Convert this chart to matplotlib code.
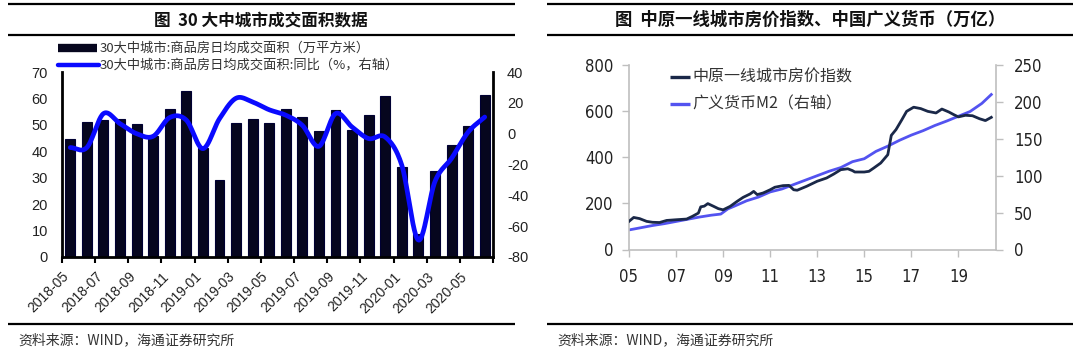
import numpy as np
import matplotlib
matplotlib.use("Agg")
import matplotlib.pyplot as plt
from matplotlib.lines import Line2D
from matplotlib import font_manager as fm

plt.rcParams["axes.unicode_minus"] = False

# ---------------- data ----------------
# 30 large/medium cities: monthly average daily transaction area
months = ["2018-05", "2018-06", "2018-07", "2018-08", "2018-09", "2018-10",
          "2018-11", "2018-12", "2019-01", "2019-02", "2019-03", "2019-04",
          "2019-05", "2019-06", "2019-07", "2019-08", "2019-09", "2019-10",
          "2019-11", "2019-12", "2020-01", "2020-02", "2020-03", "2020-04",
          "2020-05", "2020-06"]
area = [44.5, 51.2, 52.0, 52.3, 50.2, 45.6, 56.0, 63.0, 41.4, 29.0, 50.8, 52.2,
        50.8, 56.1, 53.0, 47.7, 55.5, 47.9, 53.6, 60.8, 34.0, 8.8, 32.4, 42.2,
        49.7, 61.3]
area_yoy = [-9.0, -9.0, 13.0, 6.5, 0.0, -1.7, 10.5, 8.8, -9.7, 9.7, 23.0, 20.5,
            15.5, 12.0, 5.4, -8.2, 13.0, 4.3, -3.2, -2.2, -20.5, -69.0, -31.0, -16.0,
            1.0, 10.8]
tick_labels_left = ["2018-05", "2018-07", "2018-09", "2018-11", "2019-01", "2019-03",
                    "2019-05", "2019-07", "2019-09", "2019-11", "2020-01", "2020-03",
                    "2020-05"]

# Centaline first-tier city price index (left axis)
price_t = [2005.0, 2005.2, 2005.45, 2005.75, 2006.0, 2006.3, 2006.6, 2007.0, 2007.45,
           2007.7, 2007.95, 2008.05, 2008.2, 2008.35, 2008.6, 2008.8, 2009.0, 2009.3,
           2009.6, 2009.85, 2010.15, 2010.3, 2010.45, 2010.7, 2011.0, 2011.2, 2011.55,
           2011.8, 2012.0, 2012.15, 2012.55, 2013.0, 2013.4, 2013.7, 2014.0, 2014.3,
           2014.5, 2014.6, 2015.0, 2015.2, 2015.4, 2015.7, 2016.0, 2016.15, 2016.35,
           2016.6, 2016.8, 2017.1, 2017.4, 2017.7, 2018.05, 2018.3, 2018.6, 2018.8,
           2019.0, 2019.3, 2019.6, 2019.9, 2020.15, 2020.4]
price_val = [122, 139, 134, 122, 118, 117, 126, 129, 132, 144, 158, 185, 188, 199, 187,
             177, 172, 187, 209, 226, 241, 252, 238, 245, 259, 270, 277, 278, 259, 257,
             274, 296, 310, 327, 346, 350, 342, 336, 336, 339, 353, 375, 411, 495, 520,
             563, 599, 617, 611, 599, 592, 609, 596, 585, 575, 582, 580, 567, 559, 573]

# Broad money M2, trillion yuan (right axis)
m2_t = [2005.0, 2005.5, 2006.0, 2006.5, 2007.0, 2007.5, 2008.0, 2008.5, 2008.9, 2009.2,
        2009.5, 2010.0, 2010.5, 2011.0, 2011.5, 2012.0, 2012.5, 2013.0, 2013.5, 2014.0,
        2014.5, 2015.0, 2015.5, 2016.0, 2016.5, 2017.0, 2017.5, 2018.0, 2018.5, 2019.0,
        2019.5, 2020.0, 2020.4]
m2_val = [26.5, 29.5, 32.5, 35.0, 38.0, 41.0, 44.0, 46.5, 48.0, 55.0, 59.0, 66.0, 71.0,
          78.0, 82.0, 88.0, 94.0, 100.0, 106.0, 111.0, 119.0, 123.0, 133.0, 140.0, 148.0,
          155.0, 161.0, 168.0, 174.0, 180.5, 187.0, 198.0, 210.0]
year_ticks = [2005, 2007, 2009, 2011, 2013, 2015, 2017, 2019]
year_labels = ["05", "07", "09", "11", "13", "15", "17", "19"]

# ---------------- helpers ----------------
W, H = 1080, 349
CJK = ["Noto Sans CJK SC", "DejaVu Sans"]
ARIAL = ["Liberation Sans", "DejaVu Sans"]

# a narrow face for the right-hand chart's numbers, if one is installed
_fonts = fm.fontManager.ttflist
_names = {f.name for f in _fonts}
if "Liberation Sans Narrow" in _names:
    NARROW_FP = fm.FontProperties(family="Liberation Sans Narrow", size=13)
elif any(f.name == "DejaVu Sans" and f.stretch == "condensed" for f in _fonts):
    NARROW_FP = fm.FontProperties(family="DejaVu Sans", stretch="condensed", size=12)
else:
    NARROW_FP = fm.FontProperties(family="Liberation Sans", size=12.5)


def fx(x):
    return x / W


def fy(y):
    return 1 - y / H


def axes_px(fig, x0, y0, x1, y1):
    return fig.add_axes([fx(x0), fy(y1), (x1 - x0) / W, (y1 - y0) / H])


def smooth(x, y, n=24):
    """Catmull-Rom curve through the given points."""
    pts = np.column_stack([x, y]).astype(float)
    P = np.vstack([2 * pts[0] - pts[1], pts, 2 * pts[-1] - pts[-2]])
    t = np.linspace(0, 1, n, endpoint=False)[:, None]
    segs = []
    for i in range(1, len(P) - 2):
        p0, p1, p2, p3 = P[i - 1], P[i], P[i + 1], P[i + 2]
        segs.append(0.5 * (2 * p1 + (-p0 + p2) * t
                           + (2 * p0 - 5 * p1 + 4 * p2 - p3) * t ** 2
                           + (-p0 + 3 * p1 - 3 * p2 + p3) * t ** 3))
    segs.append(pts[-1:])
    s = np.vstack(segs)
    return s[:, 0], s[:, 1]


def hline(fig, x0, x1, y, lw=1.6, color="black"):
    fig.add_artist(Line2D([fx(x0), fx(x1)], [fy(y), fy(y)], transform=fig.transFigure,
                          color=color, lw=lw, solid_capstyle="butt"))


fig = plt.figure(figsize=(W / 100, H / 100), dpi=100)
fig.patch.set_facecolor("white")

# ---------------- panel frames ----------------
for (a, b) in [(8, 515), (547, 1073)]:
    hline(fig, a, b, 4, lw=1.6)
    hline(fig, a, b, 35, lw=1.6)
    hline(fig, a, b, 324, lw=1.6)

fig.text(fx(261), fy(20), "图  30 大中城市成交面积数据", ha="center", va="center",
         fontsize=12, fontweight="bold", family=CJK, color="#111111")
fig.text(fx(810), fy(20), "图  中原一线城市房价指数、中国广义货币（万亿）", ha="center",
         va="center", fontsize=12.5, fontweight="bold", family=CJK, color="#111111")
fig.text(fx(18), fy(340), "资料来源：WIND，海通证券研究所", ha="left", va="center",
         fontsize=10, family=CJK, color="#333333")
fig.text(fx(557), fy(340), "资料来源：WIND，海通证券研究所", ha="left", va="center",
         fontsize=10, family=CJK, color="#333333")

# ---------------- left chart ----------------
ax = axes_px(fig, 62, 72, 493, 257)
x = np.arange(len(months))
ax.bar(x, area, width=0.6, color="#06061e", edgecolor="#000033", linewidth=0.8, zorder=2)
ax.set_xlim(-0.5, len(months) - 0.5)
ax.set_ylim(0, 70)
ax.set_yticks(range(0, 71, 10))
ax.set_xticks(np.arange(-0.5, len(months), 2))
ax.set_xticklabels(tick_labels_left + [""], rotation=45, ha="right", va="top",
                   rotation_mode="anchor", fontsize=10, family=ARIAL, color="#222222")
ax.tick_params(axis="x", length=4, width=1.5, direction="out", pad=5)
ax.tick_params(axis="y", length=0, pad=10, labelsize=10.5, labelcolor="#222222")
for lbl in ax.get_yticklabels():
    lbl.set_family(ARIAL)
for s in ["top", "right"]:
    ax.spines[s].set_visible(False)
for s in ["left", "bottom"]:
    ax.spines[s].set_linewidth(2)
    ax.spines[s].set_color("black")

ax2 = ax.twinx()
sx, sy = smooth(x, area_yoy)
ax2.plot(sx, sy, color="#0a0aff", lw=3.4, solid_capstyle="round", zorder=3)
ax2.set_ylim(-80, 40)
ax2.set_yticks(range(-80, 41, 20))
ax2.tick_params(axis="y", length=0, pad=10, labelsize=10.5, labelcolor="#222222")
for lbl in ax2.get_yticklabels():
    lbl.set_family(ARIAL)
for s in ["top", "left", "bottom"]:
    ax2.spines[s].set_visible(False)
ax2.spines["right"].set_linewidth(2)
ax2.spines["right"].set_color("black")

# legend for the left chart
fig.add_artist(Line2D([fx(58), fx(97)], [fy(48), fy(48)], transform=fig.transFigure,
                      color="#06061e", lw=6, solid_capstyle="butt"))
fig.add_artist(Line2D([fx(58), fx(99)], [fy(65), fy(65)], transform=fig.transFigure,
                      color="#0a0aff", lw=3.2, solid_capstyle="round"))
fig.text(fx(100), fy(48), "30大中城市:商品房日均成交面积（万平方米）", ha="left",
         va="center", fontsize=9.5, family=CJK, color="#333333")
fig.text(fx(100), fy(65), "30大中城市:商品房日均成交面积:同比（%，右轴）", ha="left",
         va="center", fontsize=9.5, family=CJK, color="#333333")

# ---------------- right chart ----------------
bx = axes_px(fig, 629, 65, 996, 249.5)
bx.plot(price_t, price_val, color="#1a2848", lw=2.0, zorder=3)
bx.set_xlim(2005, 2020.6)
bx.set_ylim(0, 800)
bx.set_yticks(range(0, 801, 200))
bx.set_xticks(year_ticks)
bx.set_xticklabels(year_labels)
bx.tick_params(axis="both", colors="#bfbfbf", labelcolor="#222222", width=1, length=5)
bx.tick_params(axis="x", pad=8)
bx.tick_params(axis="y", pad=6)
for lbl in bx.get_xticklabels() + bx.get_yticklabels():
    lbl.set_fontproperties(NARROW_FP)
for s in ["top", "right"]:
    bx.spines[s].set_visible(False)
for s in ["left", "bottom"]:
    bx.spines[s].set_color("#bfbfbf")
    bx.spines[s].set_linewidth(1.2)

bx2 = bx.twinx()
bx2.plot(m2_t, m2_val, color="#5353f0", lw=2.0, zorder=2)
bx2.set_ylim(0, 250)
bx2.set_yticks(range(0, 251, 50))
bx2.tick_params(axis="y", colors="#bfbfbf", labelcolor="#222222", width=1, length=5,
                pad=8)
for lbl in bx2.get_yticklabels():
    lbl.set_fontproperties(NARROW_FP)
for s in ["top", "left", "bottom"]:
    bx2.spines[s].set_visible(False)
bx2.spines["right"].set_color("#bfbfbf")
bx2.spines["right"].set_linewidth(1.2)
bx.set_zorder(bx2.get_zorder() + 1)
bx.patch.set_visible(False)

# legend for the right chart
fig.add_artist(Line2D([fx(670), fx(690)], [fy(77), fy(77)], transform=fig.transFigure,
                      color="#1a2848", lw=2.4, solid_capstyle="butt"))
fig.add_artist(Line2D([fx(670), fx(690)], [fy(104), fy(104)], transform=fig.transFigure,
                      color="#5353f0", lw=2.4, solid_capstyle="butt"))
fig.text(fx(692), fy(77), "中原一线城市房价指数", ha="left", va="center",
         fontsize=11.5, family=CJK, color="#333333")
fig.text(fx(692), fy(104), "广义货币M2（右轴）", ha="left", va="center",
         fontsize=11.5, family=CJK, color="#333333")

fig.savefig("out.png", dpi=100, facecolor="white")
